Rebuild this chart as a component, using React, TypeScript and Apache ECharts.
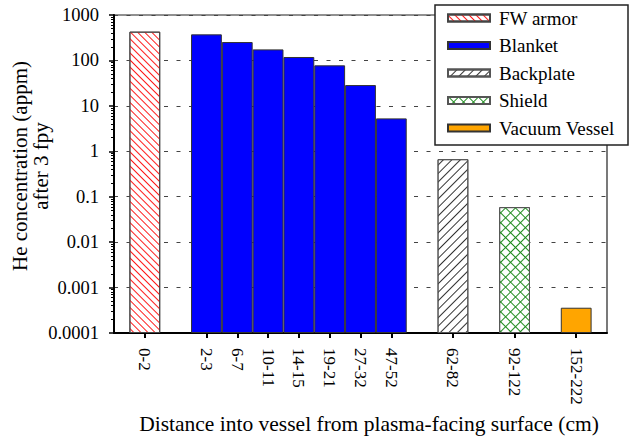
import React, { useEffect, useRef } from "react";
import * as echarts from "echarts";

// Category slots along the x axis (empty strings are spacer slots)
const categories = ["", "0-2", "", "2-3", "6-7", "10-11", "14-15", "19-21", "27-32", "47-52", "", "62-82", "", "92-122", "", "152-222", ""];

const fwArmorCats = ["0-2"];
const fwArmorValues = [430];

const blanketCats = ["2-3", "6-7", "10-11", "14-15", "19-21", "27-32", "47-52"];
const blanketValues = [375, 254, 175, 119, 78, 28.7, 5.3];

const backplateCats = ["62-82"];
const backplateValues = [0.67];

const shieldCats = ["92-122"];
const shieldValues = [0.059];

const vesselCats = ["152-222"];
const vesselValues = [0.00036];

const yTickValues = [0.0001, 0.001, 0.01, 0.1, 1, 10, 100, 1000];
const yTickLabels = ["0.0001", "0.001", "0.01", "0.1", "1", "10", "100", "1000"];

const FONT = "'Liberation Serif', 'Times New Roman', serif";

function toData(cats: string[], vals: number[]) {
  return categories.map((c) => {
    const i = c === "" ? -1 : cats.indexOf(c);
    return i >= 0 ? vals[i] : "-";
  });
}

export default function App() {
  const ref = useRef<HTMLDivElement>(null);
  useEffect(() => {
    if (!ref.current) return;
    const chart = echarts.init(ref.current, null, { renderer: "svg" });
    const barBase = {
      type: "bar",
      barWidth: "100%",
      barGap: "-100%",
      xAxisIndex: 0,
      yAxisIndex: 0,
    };
    const option: any = {
      animation: false,
      backgroundColor: "#ffffff",
      textStyle: { fontFamily: FONT, color: "#000" },
      grid: {
        left: 114,
        right: 26,
        top: 15,
        bottom: 110,
        show: true,
        borderColor: "#222",
        borderWidth: 1.2,
        containLabel: false,
        outerBoundsMode: "none",
      },
      graphic: [
        {
          type: "rect",
          z: 3,
          shape: { x: 435, y: 5, width: 193, height: 140 },
          style: { fill: "#ffffff", stroke: "#222", lineWidth: 1.5 },
        },
      ],
      legend: {
        orient: "vertical",
        left: 435,
        top: 6,
        padding: [2, 12, 2, 12],
        itemWidth: 42,
        itemHeight: 7,
        itemGap: 7.5,
        borderWidth: 0,
        z: 10,
        icon: "rect",
        textStyle: { fontFamily: FONT, fontSize: 19, color: "#000", lineHeight: 20, padding: [0, 0, 0, 4] },
        data: ["FW armor", "Blanket", "Backplate", "Shield", "Vacuum Vessel"],
      },
      xAxis: {
        type: "category",
        data: categories,
        boundaryGap: false,
        name: "Distance into vessel from plasma-facing surface (cm)",
        nameLocation: "middle",
        nameGap: 80,
        nameMoveOverlap: false,
        nameTextStyle: { fontFamily: FONT, fontSize: 21.5, color: "#000", padding: [0, 0, 0, 17] },
        axisLine: { show: true, lineStyle: { color: "#000", width: 2 } },
        axisTick: {
          show: true,
          length: 5,
          lineStyle: { color: "#000", width: 2 },
          interval: (_i: number, v: string) => v !== "",
        },
        axisLabel: {
          interval: 0,
          rotate: -90,
          margin: 15,
          fontFamily: FONT,
          fontSize: 17,
          color: "#000",
        },
        splitLine: { show: false },
      },
      yAxis: {
        type: "log",
        logBase: 10,
        min: 0.0001,
        max: 1000,
        startValue: 0.0001,
        name: "He concentration (appm)\nafter 3 fpy",
        nameLocation: "middle",
        nameRotate: 90,
        nameGap: 63,
        nameMoveOverlap: false,
        nameTextStyle: { fontFamily: FONT, fontSize: 21, color: "#000", lineHeight: 21, padding: [0, 0, 0, 16] },
        axisLine: { show: true, lineStyle: { color: "#000", width: 2 } },
        axisTick: { show: true, length: 5, lineStyle: { color: "#000", width: 1.5 } },
        minorTick: { show: true, splitNumber: 9, length: 3, lineStyle: { color: "#000", width: 1 } },
        axisLabel: {
          margin: 15,
          fontFamily: FONT,
          fontSize: 18.5,
          color: "#000",
          formatter: (v: number) => {
            const e = Math.round(Math.log10(v));
            const i = yTickValues.findIndex((t) => Math.round(Math.log10(t)) === e);
            return i >= 0 ? yTickLabels[i] : "";
          },
        },
        splitLine: { show: true, lineStyle: { color: "#444", width: 1, type: [4, 8.5] } },
      },
      series: [
        {
          ...barBase,
          name: "FW armor",
          data: toData(fwArmorCats, fwArmorValues),
          itemStyle: {
            color: "#ffffff",
            borderColor: "#444",
            borderWidth: 1,
            decal: {
              symbol: "rect",
              symbolSize: 1,
              dashArrayX: [1, 0],
              dashArrayY: [1, 4],
              rotation: Math.PI / 4,
              color: "#ff1a1a",
            },
          },
        },
        {
          ...barBase,
          name: "Blanket",
          data: toData(blanketCats, blanketValues),
          itemStyle: { color: "#0000ff", borderColor: "#333", borderWidth: 1 },
        },
        {
          ...barBase,
          name: "Backplate",
          data: toData(backplateCats, backplateValues),
          itemStyle: {
            color: "#ffffff",
            borderColor: "#555",
            borderWidth: 1,
            decal: {
              symbol: "rect",
              symbolSize: 1,
              dashArrayX: [1, 0],
              dashArrayY: [1, 5],
              rotation: -Math.PI / 4,
              color: "#333",
            },
          },
        },
        {
          ...barBase,
          name: "Shield",
          data: toData(shieldCats, shieldValues),
          itemStyle: {
            color: "#ffffff",
            borderColor: "#555",
            borderWidth: 1,
            decal: {
              symbol: "rect",
              symbolSize: 1,
              dashArrayX: [[1, 0], [1, 6], [1, 6], [1, 6], [1, 6], [1, 6], [1, 6]],
              dashArrayY: [1, 0],
              rotation: Math.PI / 4,
              color: "#1e8c1e",
            },
          },
        },
        {
          ...barBase,
          name: "Vacuum Vessel",
          data: toData(vesselCats, vesselValues),
          itemStyle: { color: "#ffa500", borderColor: "#333", borderWidth: 1 },
        },
      ],
    };
    chart.setOption(option);
    return () => chart.dispose();
  }, []);
  return (
    <div
      ref={ref}
      style={{ position: "absolute", left: 0, top: 0, width: 633, height: 443, background: "#fff" }}
    />
  );
}
